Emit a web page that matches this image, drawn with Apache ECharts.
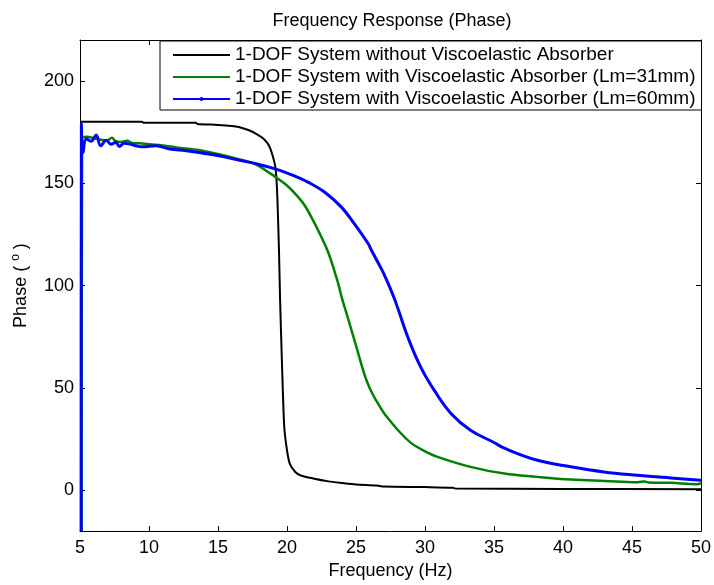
<!DOCTYPE html>
<html>
<head>
<meta charset="utf-8">
<script src="https://cdn.jsdelivr.net/npm/echarts@6/dist/echarts.min.js"></script>
<style>
  html, body { margin: 0; padding: 0; background: #fff; }
  #chart { width: 714px; height: 585px; }
</style>
</head>
<body>
<div id="chart"></div>
<script>
// ---- data ----
const xTicks = [5, 10, 15, 20, 25, 30, 35, 40, 45, 50];
const yTicks = [0, 50, 100, 150, 200];

const seriesNames = [
  '1-DOF System without Viscoelastic Absorber',
  '1-DOF System with Viscoelastic Absorber (Lm=31mm)',
  '1-DOF System with Viscoelastic Absorber (Lm=60mm)'
];

// Black: without absorber
const freqNoAbs  = [5, 9.5, 9.6, 13.4, 13.5, 15, 16, 16.5, 17.2, 17.8, 18.3, 18.7, 18.96, 19.16, 19.27, 19.35, 19.42, 19.5, 19.63, 19.8, 20.0, 20.2, 20.6, 21.0, 21.9, 23, 24, 25, 26.5, 27, 30, 32, 32.2, 40, 50];
const phaseNoAbs = [180, 180, 179.5, 179.5, 179, 178.5, 178, 177.5, 176, 174, 171.7, 168.3, 163.4, 157.7, 148, 133, 117, 93, 63.4, 31, 19.5, 13, 8.9, 7.2, 5.7, 4.3, 3.5, 2.8, 2.3, 1.8, 1.5, 1.2, 0.8, 0.6, 0.5];

// Green: Lm = 31 mm
const freqLm31  = [5.12, 5.15, 5.5, 6.0, 6.5, 7.0, 7.3, 7.6, 8.0, 8.4, 8.8, 9.3, 10, 11, 12, 13, 13.6, 15.06, 16.5, 17.7, 18.67, 19.4, 20.1, 20.84, 21.3, 21.9, 22.5, 23, 23.5, 23.73, 23.96, 24.4, 25.1, 25.5, 25.8, 26.2, 26.8, 27.1, 28.05, 29, 30, 30.9, 33.3, 35.75, 38.15, 40.6, 43, 45.4, 45.9, 46.2, 47.8, 49.7, 50];
const phaseLm31 = [-20, 172.5, 172.7, 172, 171.3, 171, 172.2, 170.5, 170.2, 170.8, 169.7, 169.5, 169, 168.5, 167.5, 166.7, 166.2, 164.2, 161.8, 159.3, 155.3, 152, 148.3, 143, 139, 131.7, 123.6, 116, 105.7, 100.5, 94.3, 84.5, 68.3, 59, 53, 47, 40, 37, 29.3, 23, 19, 16.3, 11.4, 8.1, 6.5, 5.2, 4.5, 3.9, 4.3, 3.8, 3.6, 2.9, 3.5];

// Blue: Lm = 60 mm
const freqLm60  = [5.08, 5.1, 5.22, 5.45, 5.8, 6.17, 6.5, 6.9, 7.25, 7.6, 7.85, 8.2, 8.7, 9.05, 9.5, 10.5, 11.5, 12.7, 13.9, 15.06, 16.5, 17.9, 19.2, 20.35, 21.56, 22.76, 23.96, 24.9, 25.9, 26.1, 26.85, 27.1, 27.7, 28.05, 28.8, 29.7, 30.7, 31.9, 33.3, 35, 35.75, 38.15, 40.56, 42.97, 45.4, 47.8, 50];
const phaseLm60 = [-20, 179, 165, 171.7, 170.5, 173.6, 168.3, 171, 169, 170, 168, 169.5, 169, 168.3, 167.8, 168.3, 166.7, 165.9, 164.7, 163.4, 161.3, 159.3, 156.9, 154.1, 150.4, 145.5, 138.2, 130, 120.3, 117.5, 108, 104.5, 95, 88.5, 74, 60, 48.5, 37.4, 29.3, 23.3, 20.5, 14.6, 11.4, 8.9, 7.3, 6, 4.9];

const zip = (xs, ys) => xs.map((x, i) => [x, ys[i]]);

const FONT = "'Liberation Sans', Arial, sans-serif";
const chart = echarts.init(document.getElementById('chart'), null, { renderer: 'canvas' });

const tickStyle = { show: true, inside: true, length: 5, lineStyle: { color: '#000', width: 1 } };
const lineAxis = { show: true, onZero: false, lineStyle: { color: '#000', width: 1 } };

chart.setOption({
  animation: false,
  backgroundColor: '#fff',
  title: {
    text: 'Frequency Response (Phase)',
    left: 392,
    top: 12,
    padding: 0,
    textAlign: 'center',
    textStyle: { fontFamily: FONT, fontSize: 18, fontWeight: 'normal', color: '#000' }
  },
  grid: { left: 80, right: 10, top: 40, bottom: 53, containLabel: false },
  legend: {
    orient: 'vertical',
    left: 160,
    top: 41,
    padding: [4, 6, 1, 12],
    itemGap: 2,
    itemWidth: 57,
    itemHeight: 5,
    backgroundColor: '#fff',
    borderColor: '#000',
    borderWidth: 1,
    borderRadius: 0,
    textStyle: { fontFamily: FONT, fontSize: 19, color: '#000', lineHeight: 20 },
    data: [
      { name: seriesNames[0], itemStyle: { opacity: 0 } },
      { name: seriesNames[1], itemStyle: { opacity: 0 } },
      { name: seriesNames[2] }
    ]
  },
  xAxis: [
    {
      type: 'value', min: 5, max: 50, interval: 5, position: 'bottom',
      axisLine: lineAxis, axisTick: tickStyle, splitLine: { show: false },
      axisLabel: { fontFamily: FONT, fontSize: 18, color: '#000', margin: 8 },
      name: 'Frequency (Hz)', nameLocation: 'middle', nameGap: 30,
      nameTextStyle: { fontFamily: FONT, fontSize: 18, color: '#000' }
    },
    {
      type: 'value', min: 5, max: 50, interval: 5, position: 'top',
      axisLine: lineAxis, axisTick: tickStyle, splitLine: { show: false },
      axisLabel: { show: false }
    }
  ],
  yAxis: [
    {
      type: 'value', min: -20, max: 220, position: 'left',
      axisLine: lineAxis,
      axisTick: Object.assign({}, tickStyle, { customValues: yTicks }),
      splitLine: { show: false },
      axisLabel: { fontFamily: FONT, fontSize: 18, color: '#000', margin: 6, customValues: yTicks },
      name: 'Phase ( {sup|o} )', nameLocation: 'middle', nameGap: 48, nameRotate: 90,
      nameTextStyle: {
        fontFamily: FONT, fontSize: 18, color: '#000',
        rich: { sup: { fontFamily: FONT, fontSize: 12, color: '#000', verticalAlign: 'top', lineHeight: 22 } }
      }
    },
    {
      type: 'value', min: -20, max: 220, position: 'right',
      axisLine: lineAxis,
      axisTick: Object.assign({}, tickStyle, { customValues: yTicks }),
      splitLine: { show: false },
      axisLabel: { show: false, customValues: yTicks }
    }
  ],
  series: [
    {
      name: seriesNames[0], type: 'line', data: zip(freqNoAbs, phaseNoAbs),
      symbol: 'none', showSymbol: false, clip: true, smooth: 0.25,
      lineStyle: { color: '#000000', width: 2 }, itemStyle: { color: '#000000' }
    },
    {
      name: seriesNames[1], type: 'line', data: zip(freqLm31, phaseLm31),
      symbol: 'none', showSymbol: false, clip: true, smooth: 0.4,
      lineStyle: { color: '#008000', width: 2.5 }, itemStyle: { color: '#008000' }
    },
    {
      name: seriesNames[2], type: 'line', data: zip(freqLm60, phaseLm60),
      symbol: 'circle', symbolSize: 4, showSymbol: false, clip: true, smooth: 0.4,
      lineStyle: { color: '#0000ff', width: 3 }, itemStyle: { color: '#0000ff' }
    }
  ]
});
</script>
</body>
</html>
